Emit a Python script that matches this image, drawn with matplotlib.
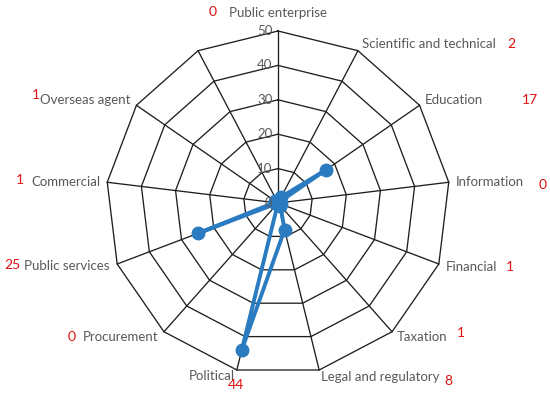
import numpy as np
import matplotlib
matplotlib.use("Agg")
import matplotlib.pyplot as plt

categories = ["Public enterprise", "Scientific and technical", "Education", "Information",
              "Financial", "Taxation", "Legal and regulatory", "Political", "Procurement",
              "Public services", "Commercial", "Overseas agent", ""]
values = [0, 2, 17, 0, 1, 1, 8, 44, 0, 25, 1, 1, 0]
ring_ticks = [0, 10, 20, 30, 40, 50]

# label layout (pixel positions in a 550x394 canvas, y from top) and alignment
label_pos = [(278, 13, "center"), (362, 44, "left"), (425, 100, "left"), (456, 182, "left"),
             (446, 267, "left"), (397, 337, "left"), (321, 377, "left"), (235, 376, "right"),
             (158, 337, "right"), (110, 266, "right"), (101, 182, "right"), (131, 100, "right"),
             None]
num_pos = [(213, 12), (511, 44), (530, 100), (543, 185), (510, 267), (461, 333),
           (448, 381), (236, 385), (72, 337), (12, 265), (20, 180), (36, 95), None]

W, H = 550, 394
fig = plt.figure(figsize=(5.5, 3.94), dpi=100)
cx, cy, R = 278, 203, 172
ax = fig.add_axes([(cx - R) / W, (H - cy - R) / H, 2 * R / W, 2 * R / H], projection="polar")
ax.set_theta_offset(np.pi / 2)
ax.set_theta_direction(-1)
ax.set_ylim(0, 50)
ax.grid(False)
ax.spines["polar"].set_visible(False)
ax.set_xticks([])
ax.set_yticks([])
ax.patch.set_alpha(0)

n = len(categories)
theta = np.arange(n) * 2 * np.pi / n
theta_c = np.append(theta, theta[0])

gridc = "#1F1F1F"
for r in ring_ticks[1:]:
    ax.plot(theta_c, [r] * (n + 1), color=gridc, lw=0.95, zorder=1, clip_on=False)
for t in theta:
    ax.plot([t, t], [0, ring_ticks[-1]], color=gridc, lw=0.95, zorder=1, clip_on=False)

vals_c = np.append(values, values[0])
ax.plot(theta_c, vals_c, color="#2A7BC0", lw=2.8, marker="o", markersize=9, zorder=3,
        clip_on=False, solid_joinstyle="round")

font = "Lato"
for r in ring_ticks:
    ax.annotate(str(r), xy=(0, r), xytext=(-4, 0), textcoords="offset points",
                ha="right", va="center", fontsize=9.5, color="#595959", family=font)

for lab, lp, v, npos in zip(categories, label_pos, values, num_pos):
    if lp is None:
        continue
    x, y, ha = lp
    fig.text(x / W, 1 - y / H, lab, ha=ha, va="center", fontsize=9.5, color="#595959", family=font)
    nx, ny = npos
    fig.text(nx / W, 1 - ny / H, str(v), ha="center", va="center", fontsize=10,
             color="#E01010", family=font)

fig.savefig("out.png", dpi=100)
